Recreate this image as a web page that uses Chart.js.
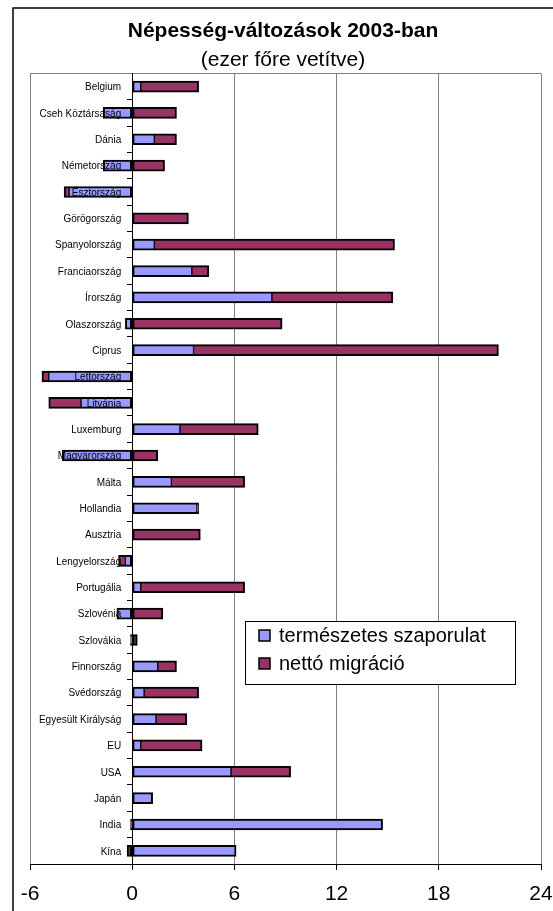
<!DOCTYPE html>
<html lang="hu">
<head>
<meta charset="utf-8">
<title>Népesség-változások 2003-ban</title>
<script src="https://cdn.jsdelivr.net/npm/chart.js@4.4.1/dist/chart.umd.min.js"></script>
<style>
  body { margin: 0; background: #fff; }
  canvas { display: block; }
</style>
</head>
<body>
<canvas id="miGrafico" width="553" height="911"></canvas>
<script>
const orszagok = [
  'Belgium', 'Cseh Köztársaság', 'Dánia', 'Németország', 'Észtország',
  'Görögország', 'Spanyolország', 'Franciaország', 'Írország', 'Olaszország',
  'Ciprus', 'Lettország', 'Litvánia', 'Luxemburg', 'Magyarország',
  'Málta', 'Hollandia', 'Ausztria', 'Lengyelország', 'Portugália',
  'Szlovénia', 'Szlovákia', 'Finnország', 'Svédország', 'Egyesült Királyság',
  'EU', 'USA', 'Japán', 'India', 'Kína',
]
const szaporulat = [
  0.5, -1.7, 1.3, -1.7, -3.7,
  0, 1.3, 3.5, 8.2, -0.4,
  3.6, -4.9, -3.0, 2.8, -4.1,
  2.3, 3.8, 0, -0.4, 0.5,
  -0.9, -0.1, 1.5, 0.7, 1.4,
  0.5, 5.8, 1.2, 14.7, 6.1,
]
const migracio = [
  3.4, 2.6, 1.3, 1.9, -0.3,
  3.3, 14.1, 1.0, 7.1, 8.8,
  17.9, -0.4, -1.9, 4.6, 1.5,
  4.3, 0.1, 4.0, -0.4, 6.1,
  1.8, 0.3, 1.1, 3.2, 1.8,
  3.6, 3.5, 0, -0.1, -0.3,
]
const xTicks = [-6, 0, 6, 12, 18, 24]

const kek = '#9999ff'
const bordo = '#993366'
const betu = "'Liberation Sans', Arial, sans-serif"

// a két szakasz közti határvonal vékonyabb, mint a külső keret
const keret = (ctx) => {
  if (ctx.type !== 'data') return 2
  const i = ctx.dataIndex
  const v = ctx.datasetIndex === 0 ? szaporulat[i] : migracio[i]
  const masik = ctx.datasetIndex === 0 ? migracio[i] : szaporulat[i]
  const kozos = v * masik > 0
  const bw = { top: 2, bottom: 2, left: 2, right: 2 }
  if (!kozos) return bw
  if (ctx.datasetIndex === 0) {
    if (v > 0) bw.right = 1
    else bw.left = 1
  } else {
    if (v > 0) bw.left = 1
    else bw.right = 1
  }
  return bw
}

const keretPlugin = {
  id: 'keret',
  beforeDraw: (chart) => {
    const c = chart.ctx
    c.save()
    c.fillStyle = '#fff'
    c.fillRect(0, 0, chart.width, chart.height)
    c.restore()
  },
  beforeDatasetsDraw: (chart) => {
    const c = chart.ctx
    const a = chart.chartArea
    c.save()
    c.strokeStyle = '#808080'
    c.lineWidth = 1
    c.beginPath()
    c.moveTo(a.left, Math.round(a.top) + 0.5)
    c.lineTo(a.right, Math.round(a.top) + 0.5)
    c.stroke()
    c.restore()
  },
  afterDatasetsDraw: (chart) => {
    // országnevek a 0-s tengely mellé, az oszlopok fölé
    const c = chart.ctx
    const xs = chart.scales.x
    const ys = chart.scales.y
    const x = xs.getPixelForValue(0) - 11
    c.save()
    c.font = '10px ' + betu
    c.fillStyle = '#000'
    c.textAlign = 'right'
    c.textBaseline = 'middle'
    chart.data.labels.forEach((nev, i) => {
      c.fillText(nev, x, ys.getPixelForValue(i) + 1)
    })
    c.restore()
  },
  afterDraw: (chart) => {
    const c = chart.ctx
    c.save()
    // külső keret (csak bal és felső él látszik)
    c.strokeStyle = '#000'
    c.lineWidth = 1.5
    c.beginPath()
    c.moveTo(13, chart.height)
    c.lineTo(13, 8)
    c.lineTo(chart.width, 8)
    c.stroke()

    // jelmagyarázat
    const x0 = 245.5
    const y0 = 621.5
    c.fillStyle = '#fff'
    c.fillRect(x0, y0, 270, 63)
    c.strokeStyle = '#000'
    c.lineWidth = 1
    c.strokeRect(x0, y0, 270, 63)
    c.font = '20px ' + betu
    c.textBaseline = 'middle'
    chart.data.datasets.forEach((ds, k) => {
      const y = 635 + k * 28
      c.fillStyle = ds.backgroundColor
      c.fillRect(259, y - 5, 11, 11)
      c.lineWidth = 1.5
      c.strokeRect(259, y - 5, 11, 11)
      c.fillStyle = '#000'
      c.fillText(ds.label, 279, y + 1)
    })
    c.restore()
  },
}

const ctx = document.getElementById('miGrafico').getContext('2d')
const myChart = new Chart(ctx, {
  type: 'bar',
  data: {
    labels: orszagok,
    datasets: [
      {
        label: 'természetes szaporulat',
        data: szaporulat,
        backgroundColor: kek,
        borderColor: '#000',
        borderWidth: keret,
        borderSkipped: false,
        barThickness: 11,
      },
      {
        label: 'nettó migráció',
        data: migracio,
        backgroundColor: bordo,
        borderColor: '#000',
        borderWidth: keret,
        borderSkipped: false,
        barThickness: 11,
      },
    ],
  },
  options: {
    indexAxis: 'y',
    responsive: false,
    animation: false,
    layout: {
      padding: { left: 13, right: 0, top: 0, bottom: 0 },
    },
    plugins: {
      legend: { display: false },
      tooltip: { enabled: false },
      title: {
        display: true,
        text: 'Népesség-változások 2003-ban',
        color: '#000',
        font: { family: betu, size: 21, weight: 'bold' },
        padding: { top: 19, bottom: 3 },
      },
      subtitle: {
        display: true,
        text: '(ezer főre vetítve)',
        color: '#000',
        font: { family: betu, size: 21, weight: 'normal' },
        padding: { top: 0, bottom: 1 },
      },
    },
    scales: {
      x: {
        stacked: true,
        min: -6,
        max: 24,
        afterBuildTicks: (scale) => {
          scale.ticks = xTicks.map((v) => ({ value: v }))
        },
        afterFit: (scale) => {
          scale.height = 47
          scale.paddingLeft = 30
          scale.paddingRight = 12
        },
        grid: {
          color: '#808080',
          lineWidth: 1,
          tickLength: 6,
          tickColor: '#000',
        },
        border: { color: '#000', width: 1 },
        ticks: {
          color: '#000',
          padding: 12,
          font: { family: betu, size: 21 },
        },
      },
      y: {
        stacked: true,
        position: { x: 0 },
        grid: {
          drawOnChartArea: false,
          tickLength: 5,
          tickColor: '#000',
          offset: true,
        },
        border: { color: '#000', width: 1, z: 1 },
        ticks: { display: false },
      },
    },
  },
  plugins: [keretPlugin],
})
</script>
</body>
</html>
